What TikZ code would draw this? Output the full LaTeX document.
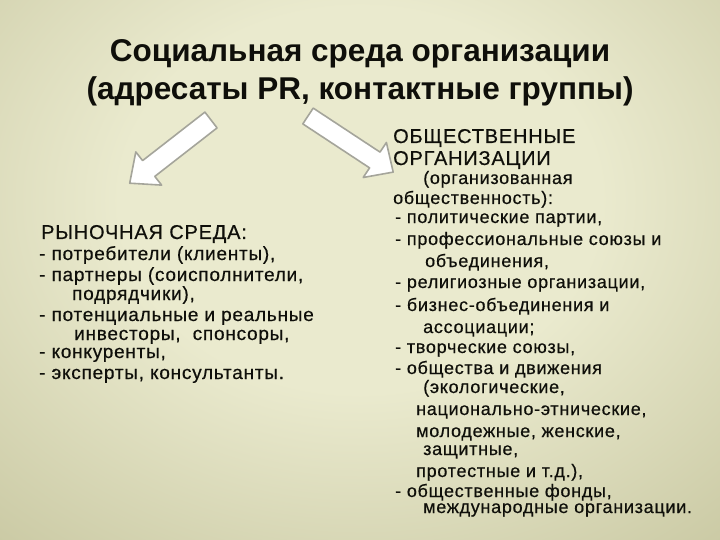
\documentclass[tikz,border=0pt]{standalone}
\usepackage{fontspec}
\setmainfont{Liberation Sans}
\newfontfamily\bodyfont[LetterSpace=4,FakeBold=0.5]{Liberation Sans}
\definecolor{bgin}{RGB}{234,234,206}
\definecolor{bgout}{RGB}{160,158,108}
\definecolor{arrowedge}{RGB}{165,165,155}
\definecolor{ink}{RGB}{15,15,10}
\pgfdeclareradialshading{bgshade}{\pgfpoint{0bp}{0bp}}{color(0bp)=(bgin); color(12bp)=(bgin); color(50bp)=(bgout)}
\begin{document}
\begin{tikzpicture}[x=1pt,y=-1pt,
  titletext/.style={anchor=base, inner sep=0pt, text=ink, font=\bfseries\fontsize{31.5}{36}\selectfont},
  bodytext/.style={anchor=base west, inner sep=0pt, text=ink, font=\bodyfont\fontsize{18}{21}\selectfont},
  lefttext/.style={bodytext, font=\bodyfont\fontsize{19}{21}\selectfont},
  headtext/.style={bodytext, font=\bodyfont\fontsize{20}{22}\selectfont},
  bigarrow/.style={fill=white, draw=arrowedge, line width=1.6pt, line join=round}]
\useasboundingbox (0,0) rectangle (720,540);
\begin{scope}
\clip (0,0) rectangle (720,540);
\shade[shading=bgshade] (-140,-200) rectangle (860,600);
\end{scope}

% title
\node[titletext] (t1) at (360,62) {Социальная среда организации};
\node[titletext] (t2) at (360,100) {(адресаты PR, контактные группы)};

% arrows
\draw[bigarrow] (204.9,112.1) -- (217.1,127.9) -- (154.8,176.4) -- (161.6,185.1) -- (129.7,183.2) -- (135.8,151.9) -- (142.6,160.6) -- cycle;
\draw[bigarrow] (302.8,123.9) -- (313.2,108.1) -- (380,152.1) -- (386.4,142.5) -- (393.2,172.1) -- (363.2,177.5) -- (369.6,167.9) -- cycle;

% left block
\node[headtext] (l1) at (41,239) {РЫНОЧНАЯ СРЕДА:};
\node[lefttext] (l2) at (39,260) {- потребители (клиенты),};
\node[lefttext] (l3) at (39,281) {- партнеры (соисполнители,};
\node[lefttext] (l4) at (72,300) {подрядчики),};
\node[lefttext] (l5) at (39,321) {- потенциальные и реальные};
\node[lefttext] (l6) at (74,340) {инвесторы,\ \ спонсоры,};
\node[lefttext] (l7) at (39,358) {- конкуренты,};
\node[lefttext] (l8) at (39,379) {- эксперты, консультанты.};

% right block
\node[headtext] (r1) at (393,143) {ОБЩЕСТВЕННЫЕ};
\node[headtext] (r2) at (393,165) {ОРГАНИЗАЦИИ};
\node[bodytext] (r3) at (423,184) {(организованная};
\node[bodytext] (r4) at (393,204) {общественность):};
\node[bodytext] (r5) at (395,223) {- политические партии,};
\node[bodytext] (r6) at (395,245) {- профессиональные союзы и};
\node[bodytext] (r7) at (425,267) {объединения,};
\node[bodytext] (r8) at (395,288) {- религиозные организации,};
\node[bodytext] (r9) at (395,311) {- бизнес-объединения и};
\node[bodytext] (r10) at (423,333) {ассоциации;};
\node[bodytext] (r11) at (395,353) {- творческие союзы,};
\node[bodytext] (r12) at (395,374) {- общества и движения};
\node[bodytext] (r13) at (423,393) {(экологические,};
\node[bodytext] (r14) at (416,415) {национально-этнические,};
\node[bodytext] (r15) at (416,437) {молодежные, женские,};
\node[bodytext] (r16) at (423,455) {защитные,};
\node[bodytext] (r17) at (416,477) {протестные и т.д.),};
\node[bodytext] (r18) at (395,497) {- общественные фонды,};
\node[bodytext] (r19) at (423,513) {международные организации.};
\end{tikzpicture}
\end{document}
